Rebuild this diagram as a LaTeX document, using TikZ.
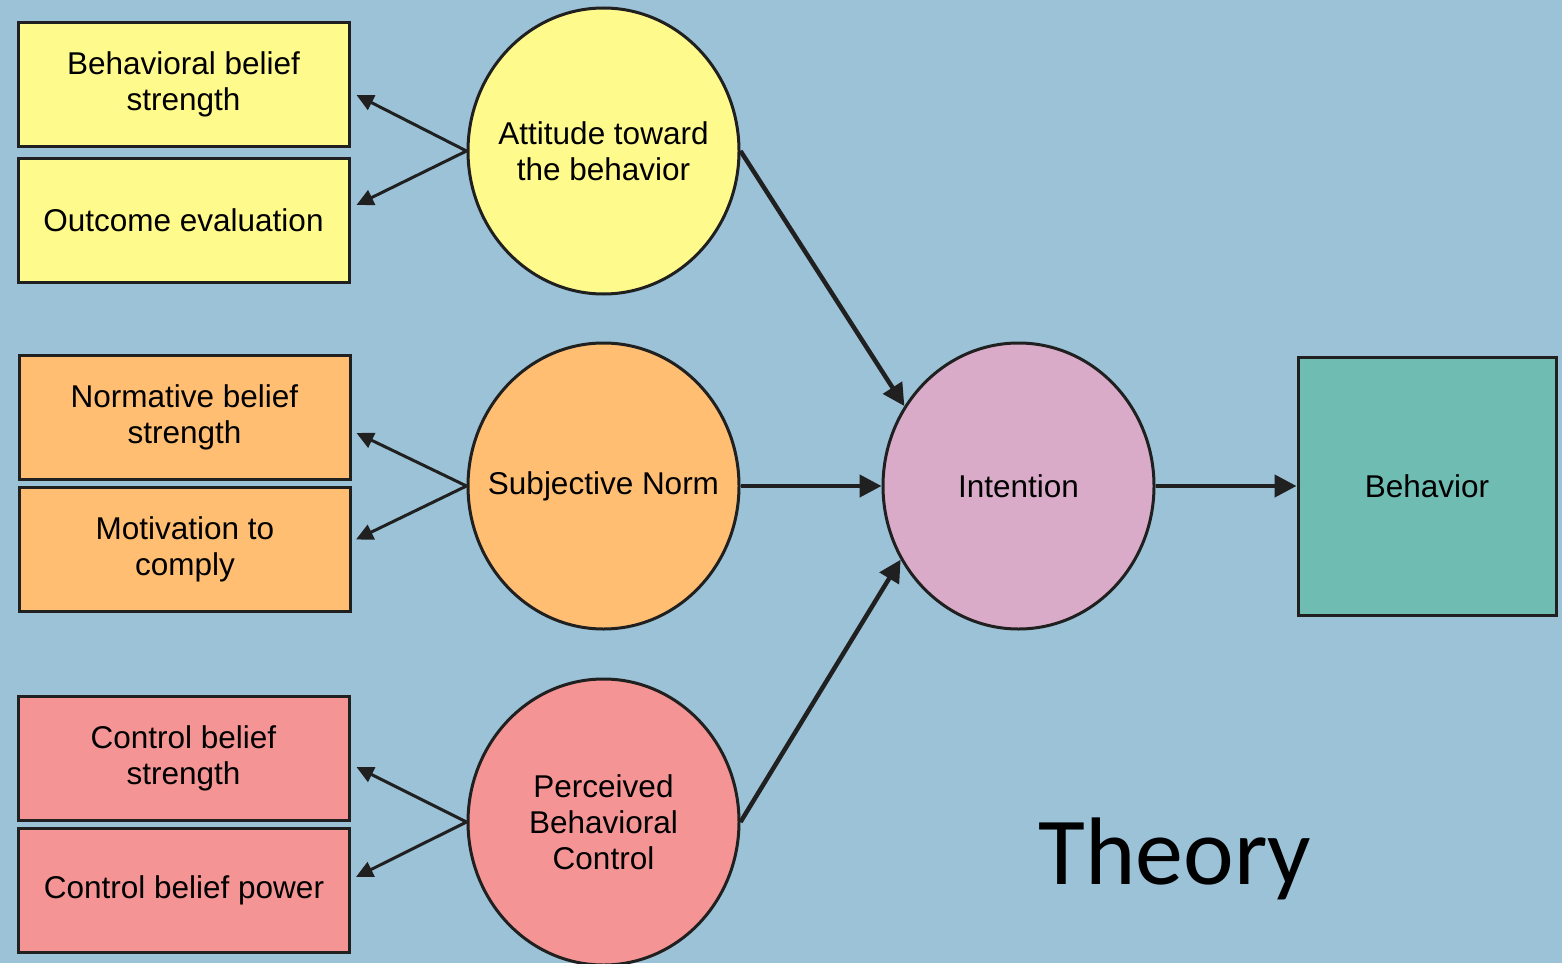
\documentclass[tikz,border=0pt]{standalone}
\usepackage{fontspec}
\setmainfont{Liberation Sans}
\newfontfamily\titlefont{Carlito}
\usetikzlibrary{shapes.geometric,arrows.meta}
\definecolor{bgblue}{HTML}{9BC2D6}
\definecolor{ylw}{HTML}{FFFA8C}
\definecolor{org}{HTML}{FFBE72}
\definecolor{pnk}{HTML}{F59494}
\definecolor{mauve}{HTML}{D9ABC8}
\definecolor{teal}{HTML}{6FBCB3}
\definecolor{ink}{HTML}{202020}
\tikzset{
  lbl/.style={font=\fontsize{31.5}{36}\selectfont, align=center, text=black},
  beliefbox/.style={lbl, draw=ink, line width=3pt, minimum width=331pt, minimum height=124pt, inner sep=0pt},
  construct/.style={ellipse, draw=ink, line width=3pt, minimum width=271pt, minimum height=286pt, inner sep=0pt},
  thin arrow/.style={draw=ink, line width=3pt, -{Triangle[length=17pt,width=16pt]}},
  thick arrow/.style={draw=ink, line width=4.5pt, -{Triangle[length=22pt,width=22pt]}}
}
\begin{document}
\begin{tikzpicture}[x=1pt,y=-1pt]
  \fill[bgblue] (0,0) rectangle (1562,963);
  \useasboundingbox (0,0) rectangle (1562,963);

  % belief boxes
  \node[beliefbox, fill=ylw] (bbs) at (183.5,84.5) {Behavioral belief\\strength};
  \node[beliefbox, fill=ylw] (oe)  at (183.5,220)  {Outcome evaluation};
  \node[beliefbox, fill=org] (nbs) at (184.5,417)  {Normative belief\\strength};
  \node[beliefbox, fill=org] (mc)  at (185,549.5)  {Motivation to\\comply};
  \node[beliefbox, fill=pnk] (cbs) at (183.5,758)  {Control belief\\strength};
  \node[beliefbox, fill=pnk] (cbp) at (184,890)    {Control belief power};

  % constructs (fixed size; text set as a centred label)
  \node[construct, fill=ylw, label={[lbl]center:Attitude toward\\the behavior}] (att) at (603.5,151) {};
  \node[construct, fill=org, label={[lbl]center:Subjective Norm}] (sn) at (603.5,486) {};
  \node[construct, fill=pnk, label={[lbl]center:Perceived\\Behavioral\\Control}] (pbc) at (603.5,822) {};
  \node[construct, fill=mauve, label={[lbl]center:Intention}] (int) at (1018.5,486) {};
  \node[lbl, draw=ink, line width=3pt, fill=teal, minimum width=258pt, minimum height=258pt, inner sep=0pt] (beh) at (1427,486) {Behavior};

  % beliefs feeding each construct
  \draw[thin arrow] (att.west) -- ([shift={(6,10.5)}]bbs.east);
  \draw[thin arrow] (att.west) -- ([shift={(6,-15)}]oe.east);
  \draw[thin arrow] (sn.west)  -- ([shift={(5,16)}]nbs.east);
  \draw[thin arrow] (sn.west)  -- ([shift={(4,-10)}]mc.east);
  \draw[thin arrow] (pbc.west) -- ([shift={(6,9)}]cbs.east);
  \draw[thin arrow] (pbc.west) -- ([shift={(5,-13)}]cbp.east);

  % constructs to intention to behaviour
  \draw[thick arrow] (att.east) -- (int.145);
  \draw[thick arrow] (sn.east)  -- (int.west);
  \draw[thick arrow] (pbc.east) -- (int.212);
  \draw[thick arrow] (int.east) -- (beh.west);

  \node[font=\titlefont\fontsize{96}{110}\selectfont, anchor=base] (title) at (1175,884) {Theory};
\end{tikzpicture}
\end{document}
